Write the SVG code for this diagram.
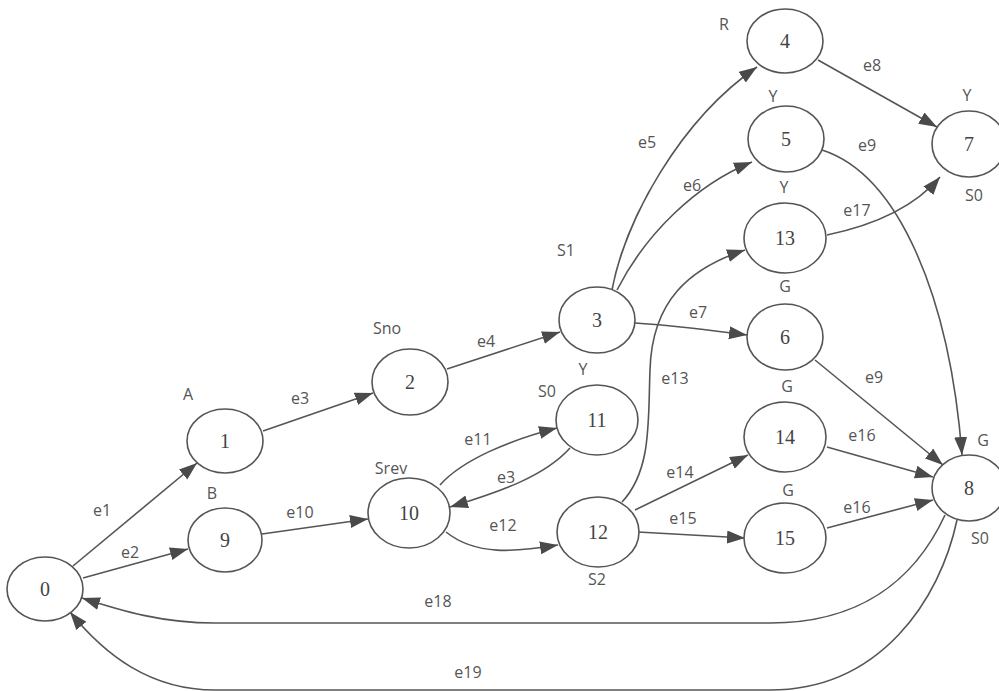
<svg xmlns="http://www.w3.org/2000/svg" width="999" height="691" viewBox="0 0 999 691">
  <defs>
    <marker id="arrow" markerUnits="userSpaceOnUse" markerWidth="19" markerHeight="14" refX="18" refY="6.5" orient="auto">
      <path d="M0,0 L18,6.5 L0,13 z" fill="#4a4a4a"/>
    </marker>
    <style>
      .node ellipse { fill: #ffffff; stroke: #555555; stroke-width: 1.6; }
      .node .num { font-family: "Liberation Serif", "DejaVu Serif", serif; font-size: 20px; fill: #444444; text-anchor: middle; dominant-baseline: central; }
      .tag { font-family: "Open Sans", "Liberation Sans", sans-serif; font-size: 16px; fill: #555555; text-anchor: middle; dominant-baseline: central; }
      .edges path { fill: none; stroke: #555555; stroke-width: 1.6; marker-end: url(#arrow); }
      .elabel { font-family: "Open Sans", "Liberation Sans", sans-serif; font-size: 16px; fill: #555555; text-anchor: middle; dominant-baseline: central; }
    </style>
  </defs>
  <rect width="999" height="691" fill="#ffffff"/>

  <!-- connectors -->
  <g id="edges" class="edges">
    <path d="M73,566 L197,463"/>
    <path d="M83,578 L188,549"/>
    <path d="M263,431 L373,393"/>
    <path d="M447,369 L560,332"/>
    <path d="M262,534 L368,519"/>
    <path d="M440,485 C462,460 510,440 557,428"/>
    <path d="M570,448 C545,476 500,492 450,507"/>
    <path d="M446,532 C476,556 515,552 558,545"/>
    <path d="M622,502 C652,470 648,420 650,370 C652,300 690,268 745,250"/>
    <path d="M612,290 C625,220 680,120 757,67"/>
    <path d="M617,290 C645,235 695,185 752,162"/>
    <path d="M635,323 C680,326 715,331 747,335"/>
    <path d="M818,60 L937,127"/>
    <path d="M822,150 C900,175 950,300 962,455"/>
    <path d="M815,360 L943,465"/>
    <path d="M827,447 L933,477"/>
    <path d="M827,528 L933,500"/>
    <path d="M635,510 L748,455"/>
    <path d="M638,532 L745,538"/>
    <path d="M827,235 C870,226 912,210 940,177"/>
    <path d="M945,515 C915,580 860,623 770,623 L215,623 C162,623 122,611 82,598"/>
    <path d="M957,520 C940,600 880,690 770,690 L215,690 C150,690 105,655 70,612"/>
  </g>

  <!-- connector labels -->
  <g id="edge-labels">
    <text class="elabel" x="102" y="510">e1</text>
    <text class="elabel" x="130" y="552">e2</text>
    <text class="elabel" x="300" y="398">e3</text>
    <text class="elabel" x="486" y="341">e4</text>
    <text class="elabel" x="300" y="512">e10</text>
    <text class="elabel" x="478" y="439">e11</text>
    <text class="elabel" x="506" y="477">e3</text>
    <text class="elabel" x="503" y="525">e12</text>
    <text class="elabel" x="675" y="378">e13</text>
    <text class="elabel" x="698" y="312">e7</text>
    <text class="elabel" x="647" y="142">e5</text>
    <text class="elabel" x="692" y="185">e6</text>
    <text class="elabel" x="872" y="65">e8</text>
    <text class="elabel" x="867" y="145">e9</text>
    <text class="elabel" x="857" y="210">e17</text>
    <text class="elabel" x="874" y="377">e9</text>
    <text class="elabel" x="862" y="435">e16</text>
    <text class="elabel" x="680" y="472">e14</text>
    <text class="elabel" x="683" y="518">e15</text>
    <text class="elabel" x="857" y="507">e16</text>
    <text class="elabel" x="438" y="601">e18</text>
    <text class="elabel" x="468" y="672">e19</text>
  </g>

  <!-- nodes -->
  <g id="node-0" class="node">
    <ellipse cx="45" cy="589" rx="38" ry="32"/>
    <text class="num" x="45" y="589">0</text>
  </g>
  <g id="node-1" class="node">
    <ellipse cx="225" cy="441" rx="38" ry="32"/>
    <text class="num" x="225" y="441">1</text>
    <text class="tag" x="188" y="394">A</text>
  </g>
  <g id="node-9" class="node">
    <ellipse cx="225" cy="540" rx="37" ry="32"/>
    <text class="num" x="225" y="540">9</text>
    <text class="tag" x="212" y="493">B</text>
  </g>
  <g id="node-2" class="node">
    <ellipse cx="410" cy="382" rx="38" ry="33"/>
    <text class="num" x="410" y="382">2</text>
    <text class="tag" x="387" y="328">Sno</text>
  </g>
  <g id="node-10" class="node">
    <ellipse cx="409" cy="513" rx="41" ry="35"/>
    <text class="num" x="409" y="513">10</text>
    <text class="tag" x="391" y="468">Srev</text>
  </g>
  <g id="node-3" class="node">
    <ellipse cx="597" cy="320" rx="38" ry="33"/>
    <text class="num" x="597" y="320">3</text>
    <text class="tag" x="566" y="250">S1</text>
  </g>
  <g id="node-11" class="node">
    <ellipse cx="597" cy="420" rx="41" ry="35"/>
    <text class="num" x="597" y="420">11</text>
    <text class="tag" x="583" y="369">Y</text>
    <text class="tag" x="547" y="391">S0</text>
  </g>
  <g id="node-12" class="node">
    <ellipse cx="598" cy="532" rx="41" ry="35"/>
    <text class="num" x="598" y="532">12</text>
    <text class="tag" x="597" y="579">S2</text>
  </g>
  <g id="node-4" class="node">
    <ellipse cx="785" cy="41" rx="38" ry="32"/>
    <text class="num" x="785" y="41">4</text>
    <text class="tag" x="724" y="24">R</text>
  </g>
  <g id="node-5" class="node">
    <ellipse cx="786" cy="139" rx="38" ry="33"/>
    <text class="num" x="786" y="139">5</text>
    <text class="tag" x="773" y="96">Y</text>
  </g>
  <g id="node-13" class="node">
    <ellipse cx="785" cy="238" rx="41" ry="35"/>
    <text class="num" x="785" y="238">13</text>
    <text class="tag" x="784" y="187">Y</text>
  </g>
  <g id="node-6" class="node">
    <ellipse cx="785" cy="337" rx="38" ry="33"/>
    <text class="num" x="785" y="337">6</text>
    <text class="tag" x="785" y="286">G</text>
  </g>
  <g id="node-14" class="node">
    <ellipse cx="785" cy="437" rx="41" ry="35"/>
    <text class="num" x="785" y="437">14</text>
    <text class="tag" x="787" y="386">G</text>
  </g>
  <g id="node-15" class="node">
    <ellipse cx="785" cy="538" rx="41" ry="35"/>
    <text class="num" x="785" y="538">15</text>
    <text class="tag" x="788" y="490">G</text>
  </g>
  <g id="node-7" class="node">
    <ellipse cx="969" cy="144" rx="37" ry="33"/>
    <text class="num" x="969" y="144">7</text>
    <text class="tag" x="967" y="95">Y</text>
    <text class="tag" x="974" y="195">S0</text>
  </g>
  <g id="node-8" class="node">
    <ellipse cx="969" cy="488" rx="37" ry="33"/>
    <text class="num" x="969" y="488">8</text>
    <text class="tag" x="983" y="440">G</text>
    <text class="tag" x="980" y="538">S0</text>
  </g>
</svg>
